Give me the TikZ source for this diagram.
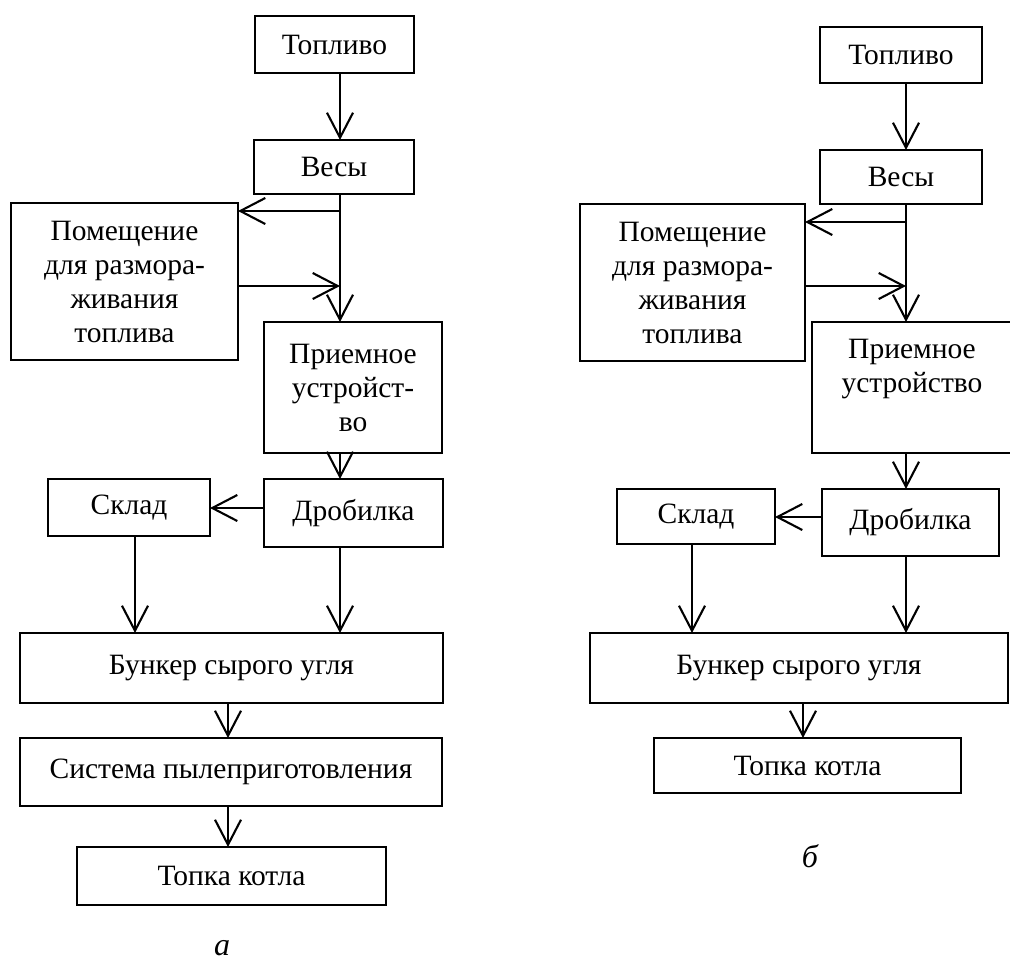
\documentclass[tikz,border=0pt]{standalone}
\usepackage{fontspec}
\setmainfont{Liberation Serif}
\usetikzlibrary{arrows.meta}
\begin{document}
\begin{tikzpicture}[x=1pt,y=-1pt,
  box/.style={draw, line width=2.3pt, inner sep=0pt, outer sep=0pt, align=center,
    font=\fontsize{29.5}{34}\selectfont},
  arr/.style={line width=2.1pt, -{Straight Barb[length=25pt,width=26pt]}},
  lbl/.style={font=\fontsize{32}{34}\selectfont\itshape}]
\useasboundingbox (0,0) rectangle (1010,962);

% ---------- diagram a ----------
\node[box, minimum width=159pt, minimum height=57pt] (topA) at (334.5,44.5) {Топливо};
\node[box, minimum width=160pt, minimum height=54pt] (vesA) at (334,167) {Весы};
\node[box, minimum width=227pt, minimum height=157pt] (pomA) at (124.5,281.5) {Помещение\\для размора-\\живания\\топлива};
\node[box, minimum width=178pt, minimum height=131pt] (prmA) at (353,387.5) {Приемное\\устройст-\\во};
\node[box, minimum width=179pt, minimum height=68pt] (droA) at (353.5,513) {Дробилка};
\node[box, minimum width=162pt, minimum height=57pt] (sklA) at (129,507.5) {Склад};
\node[box, minimum width=423pt, minimum height=70pt] (bunA) at (231.5,668) {Бункер сырого угля};
\node[box, minimum width=422pt, minimum height=68pt] (sysA) at (231,772) {Система пылеприготовления};
\node[box, minimum width=309pt, minimum height=58pt] (tpkA) at (231.5,876) {Топка котла};
\node[lbl] (capA) at (222,948) {а};

\coordinate (xA) at (340,0);
\coordinate (xS) at (135,0);
\coordinate (xB) at (228,0);
\coordinate (yA1) at (0,211);
\coordinate (yA2) at (0,286);
\coordinate (yA3) at (0,508);

\draw[arr] (topA.south -| xA) -- (vesA.north -| xA);
\draw[arr] (vesA.south -| xA) -- (prmA.north -| xA);
\draw[arr] (xA |- yA1) -- (pomA.east |- yA1);
\draw[arr] (pomA.east |- yA2) -- (xA |- yA2);
\draw[arr] (prmA.south -| xA) -- (droA.north -| xA);
\draw[arr] (droA.west |- yA3) -- (sklA.east |- yA3);
\draw[arr] (sklA.south -| xS) -- (bunA.north -| xS);
\draw[arr] (droA.south -| xA) -- (bunA.north -| xA);
\draw[arr] (bunA.south -| xB) -- (sysA.north -| xB);
\draw[arr] (sysA.south -| xB) -- (tpkA.north -| xB);

% ---------- diagram b ----------
\node[box, minimum width=162pt, minimum height=56pt] (topB) at (901,55) {Топливо};
\node[box, minimum width=162pt, minimum height=54pt] (vesB) at (901,177) {Весы};
\node[box, minimum width=225pt, minimum height=157pt] (pomB) at (692.5,282.5) {Помещение\\для размора-\\живания\\топлива};
\node[box, minimum width=200pt, minimum height=131pt] (prmB) at (912,387.5) {Приемное\\устройство\\\strut};
\node[box, minimum width=177pt, minimum height=67pt] (droB) at (910.5,522.5) {Дробилка};
\node[box, minimum width=158pt, minimum height=55pt] (sklB) at (696,516.5) {Склад};
\node[box, minimum width=418pt, minimum height=70pt] (bunB) at (799,668) {Бункер сырого угля};
\node[box, minimum width=307pt, minimum height=55pt] (tpkB) at (807.5,765.5) {Топка котла};
\node[lbl] (capB) at (810,856) {б};

\coordinate (xC) at (906,0);
\coordinate (xT) at (692,0);
\coordinate (xD) at (803,0);
\coordinate (yB1) at (0,222);
\coordinate (yB2) at (0,286);
\coordinate (yB3) at (0,517);

\draw[arr] (topB.south -| xC) -- (vesB.north -| xC);
\draw[arr] (vesB.south -| xC) -- (prmB.north -| xC);
\draw[arr] (xC |- yB1) -- (pomB.east |- yB1);
\draw[arr] (pomB.east |- yB2) -- (xC |- yB2);
\draw[arr] (prmB.south -| xC) -- (droB.north -| xC);
\draw[arr] (droB.west |- yB3) -- (sklB.east |- yB3);
\draw[arr] (sklB.south -| xT) -- (bunB.north -| xT);
\draw[arr] (droB.south -| xC) -- (bunB.north -| xC);
\draw[arr] (bunB.south -| xD) -- (tpkB.north -| xD);
\end{tikzpicture}
\end{document}
